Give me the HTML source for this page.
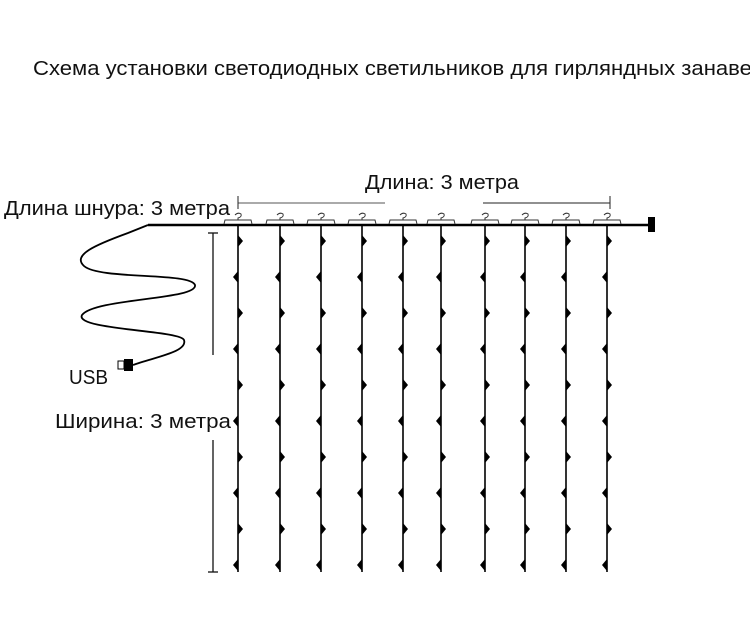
<!DOCTYPE html>
<html><head><meta charset="utf-8"><style>
html,body{margin:0;padding:0;background:#fff;}
svg{display:block;}
text{font-family:"Liberation Sans","DejaVu Sans",sans-serif;fill:#111;}
</style></head><body>
<svg width="750" height="630" viewBox="0 0 750 630" xmlns="http://www.w3.org/2000/svg">
<defs>
<g id="col">
<path d="M-14 224 L-13 220 L13 220 L14 224" fill="none" stroke="#333" stroke-width="1"/>
<path d="M-3 215 Q0 212 3 214 Q4 217 0 218 L0 220" fill="none" stroke="#333" stroke-width="1"/>
<line x1="0" y1="225" x2="0" y2="572" stroke="#000" stroke-width="1.6"/>
<polygon points="0,235 5,241 0,247"/>
<polygon points="0,271 -5,277 0,283"/>
<polygon points="0,307 5,313 0,319"/>
<polygon points="0,343 -5,349 0,355"/>
<polygon points="0,379 5,385 0,391"/>
<polygon points="0,415 -5,421 0,427"/>
<polygon points="0,451 5,457 0,463"/>
<polygon points="0,487 -5,493 0,499"/>
<polygon points="0,523 5,529 0,535"/>
<polygon points="0,559 -5,565 0,571"/>
</g>
</defs>
<text x="33" y="75" font-size="20.5" textLength="730" lengthAdjust="spacingAndGlyphs">Схема установки светодиодных светильников для гирляндных занавес</text>
<text x="4" y="215" font-size="20.5" textLength="226" lengthAdjust="spacingAndGlyphs">Длина шнура: 3 метра</text>
<text x="365" y="189" font-size="20.5" textLength="154" lengthAdjust="spacingAndGlyphs">Длина: 3 метра</text>
<text x="69" y="384" font-size="20.5" textLength="39" lengthAdjust="spacingAndGlyphs">USB</text>
<text x="55" y="428" font-size="20.5" textLength="176" lengthAdjust="spacingAndGlyphs">Ширина: 3 метра</text>
<line x1="238" y1="203" x2="385" y2="203" stroke="#555" stroke-width="1"/>
<line x1="483" y1="203" x2="610" y2="203" stroke="#222" stroke-width="1"/>
<line x1="238" y1="196" x2="238" y2="209" stroke="#222" stroke-width="1"/>
<line x1="610" y1="196" x2="610" y2="209" stroke="#222" stroke-width="1"/>
<line x1="213" y1="233" x2="213" y2="355" stroke="#111" stroke-width="1.3"/>
<line x1="213" y1="440" x2="213" y2="572" stroke="#111" stroke-width="1.3"/>
<line x1="208" y1="233" x2="218" y2="233" stroke="#111" stroke-width="1.3"/>
<line x1="208" y1="572" x2="218" y2="572" stroke="#111" stroke-width="1.3"/>
<line x1="148" y1="225" x2="650" y2="225" stroke="#000" stroke-width="2.5"/>
<rect x="648" y="217" width="7" height="15" fill="#000"/>
<use href="#col" x="238"/>
<use href="#col" x="280"/>
<use href="#col" x="321"/>
<use href="#col" x="362"/>
<use href="#col" x="403"/>
<use href="#col" x="441"/>
<use href="#col" x="485"/>
<use href="#col" x="525"/>
<use href="#col" x="566"/>
<use href="#col" x="607"/>
<path d="M148 225 L128 233 C95 245 72 255 84 266 C100 280 190 272 195 285 C198 300 95 298 82 315 C74 330 180 330 184 340 C188 352 155 357 133 365" fill="none" stroke="#000" stroke-width="1.8"/>
<rect x="124" y="359" width="9" height="12" fill="#000"/>
<rect x="118" y="361" width="6" height="8" fill="#fff" stroke="#000" stroke-width="1"/>
</svg>
</body></html>
